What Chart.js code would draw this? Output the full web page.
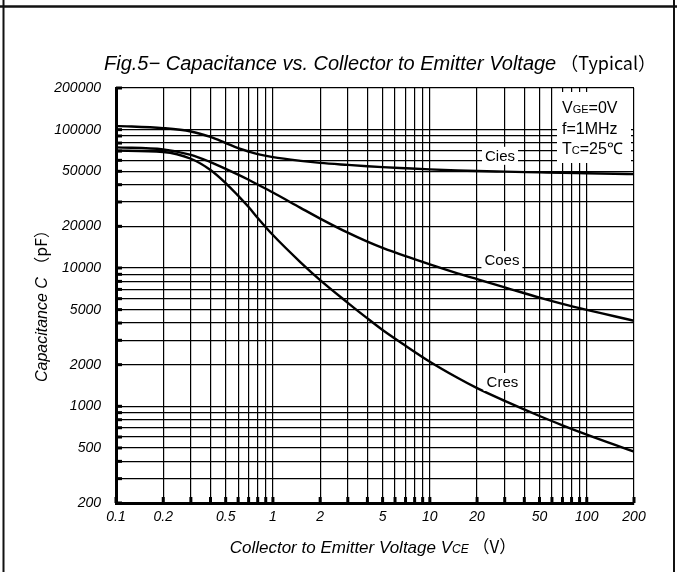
<!DOCTYPE html>
<html>
<head>
<meta charset="utf-8">
<script src="https://cdn.jsdelivr.net/npm/chart.js@4"></script>
<style>
  html, body { margin: 0; padding: 0; background: #fff; }
  #wrap { width: 677px; height: 572px; }
</style>
</head>
<body>
<div id="wrap"><canvas id="capChart" width="677" height="572"></canvas></div>
<script>
// --- data ---
const vce = [0.1, 0.2, 0.3, 0.4, 0.5, 0.6, 0.7, 0.8, 1, 1.5, 2, 3, 4, 5, 7, 10, 15, 20, 30, 50, 70, 100, 150, 200];
const cies = [106500, 102500, 97000, 88500, 80000, 73500, 69500, 66600, 63300, 59500, 57500, 55600, 54400, 53600, 52600, 51600, 50700, 50200, 49700, 49100, 48700, 48400, 48000, 47700];
const coes = [74500, 71900, 65800, 58300, 52100, 47300, 43400, 40100, 35100, 27200, 22750, 17990, 15490, 13970, 12170, 10620, 9150, 8300, 7250, 6100, 5500, 4980, 4480, 4150];
const cres = [70500, 69000, 61600, 51100, 41100, 33300, 27600, 23000, 17300, 10990, 8170, 5600, 4320, 3560, 2740, 2100, 1607, 1352, 1094, 851, 729, 624, 528, 471];

// grid lines (1..9 per decade) and the values that get a label
const xGrid = [0.1, 0.2, 0.3, 0.4, 0.5, 0.6, 0.7, 0.8, 0.9, 1, 2, 3, 4, 5, 6, 7, 8, 9, 10, 20, 30, 40, 50, 60, 70, 80, 90, 100, 200];
const xLabels = [0.1, 0.2, 0.5, 1, 2, 5, 10, 20, 50, 100, 200];
const yGrid = [200, 300, 400, 500, 600, 700, 800, 900, 1000, 2000, 3000, 4000, 5000, 6000, 7000, 8000, 9000, 10000,
  20000, 30000, 40000, 50000, 60000, 70000, 80000, 90000, 100000, 200000];
const yLabels = [200, 500, 1000, 2000, 5000, 10000, 20000, 50000, 100000, 200000];

// curve name labels, placed at data coordinates
const curveNames = ['Cies', 'Coes', 'Cres'];
const nameAt = [[28, 64700], [28.8, 11400], [29, 1500]];

const conditions = [['V', 'GE', '=0V'], ['f=1MHz', '', ''], ['T', 'C', '=25℃']];

const toPoints = ys => vce.map((x, i) => ({ x: x, y: ys[i] }));
const sans = '"Liberation Sans", Arial, sans-serif';
const cjk = '"Noto Sans CJK JP", sans-serif';

function curve(ys) {
  return {
    data: toPoints(ys),
    showLine: true,
    borderColor: '#000',
    borderWidth: 2.4,
    pointRadius: 0,
    cubicInterpolationMode: 'monotone'
  };
}

// draw a run of [text, font] pieces starting at x
function drawRun(ctx, parts, x, y) {
  parts.forEach(p => { ctx.font = p[1]; ctx.fillText(p[0], x, y); x += ctx.measureText(p[0]).width; });
  return x;
}
function runWidth(ctx, parts) {
  let w = 0;
  parts.forEach(p => { ctx.font = p[1]; w += ctx.measureText(p[0]).width; });
  return w;
}

// --- extra drawing: inner ticks, frame, titles, labels ---
const decorations = {
  id: 'decorations',
  afterDatasetsDraw(chart) {
    const ctx = chart.ctx;
    const xs = chart.scales.x, ys = chart.scales.y;
    const a = chart.chartArea;
    ctx.save();

    // thick inward ticks on left and bottom axis
    ctx.strokeStyle = '#000';
    ctx.lineWidth = 3;
    yGrid.forEach(v => {
      const py = ys.getPixelForValue(v);
      ctx.beginPath(); ctx.moveTo(a.left, py); ctx.lineTo(a.left + 6, py); ctx.stroke();
    });
    xGrid.forEach(v => {
      const px = xs.getPixelForValue(v);
      ctx.beginPath(); ctx.moveTo(px, a.bottom); ctx.lineTo(px, a.bottom - 6); ctx.stroke();
    });

    // curve names on white boxes
    ctx.font = '15px ' + sans;
    ctx.textAlign = 'center';
    ctx.textBaseline = 'middle';
    curveNames.forEach((name, i) => {
      const px = xs.getPixelForValue(nameAt[i][0]);
      const py = ys.getPixelForValue(nameAt[i][1]);
      const w = ctx.measureText(name).width + 6;
      ctx.fillStyle = '#fff';
      ctx.fillRect(px - w / 2, py - 9, w, 18);
      ctx.fillStyle = '#000';
      ctx.fillText(name, px, py + 1);
    });

    // conditions box
    ctx.fillStyle = '#fff';
    ctx.fillRect(557, 92, 74, 71);
    ctx.textAlign = 'left';
    ctx.textBaseline = 'alphabetic';
    ctx.fillStyle = '#000';
    conditions.forEach((parts, i) => {
      const run = [[parts[0], '16px ' + sans]];
      if (parts[1]) run.push([parts[1], '11px ' + sans]);
      if (parts[2]) run.push([parts[2], '16px ' + sans]);
      drawRun(ctx, run, 562, 113 + i * 20.5);
    });

    // title
    drawRun(ctx, [
      ['Fig.5\u2212 Capacitance vs. Collector to Emitter Voltage', 'italic 20px ' + sans],
      [' （Typical）', '18px ' + cjk]
    ], 104, 70);

    // x axis title
    const xa = [['Collector to Emitter Voltage V', 'italic 17px ' + sans], ['CE', 'italic 12px ' + sans], [' （V）', '17px ' + cjk]];
    drawRun(ctx, xa, 373 - runWidth(ctx, xa) / 2, 553);

    // y axis title
    ctx.translate(47, 302);
    ctx.rotate(-Math.PI / 2);
    const ya = [['Capacitance C ', 'italic 16px ' + sans], ['（pF）', '16px ' + cjk]];
    drawRun(ctx, ya, -runWidth(ctx, ya) / 2, 0);
    ctx.setTransform(1, 0, 0, 1, 0, 0);

    // outer frame
    ctx.strokeStyle = '#111';
    ctx.lineWidth = 2;
    ctx.beginPath();
    ctx.moveTo(3.5, 0); ctx.lineTo(3.5, 572);
    ctx.moveTo(674, 0); ctx.lineTo(674, 572);
    ctx.stroke();
    ctx.lineWidth = 2.5;
    ctx.beginPath(); ctx.moveTo(0, 6.5); ctx.lineTo(677, 6.5); ctx.stroke();
    ctx.restore();
  }
};

const tickFont = { family: sans, style: 'italic', size: 14 };

new Chart(document.getElementById('capChart'), {
  type: 'scatter',
  data: { datasets: [curve(cies), curve(coes), curve(cres)] },
  options: {
    responsive: false,
    animation: false,
    layout: { padding: { left: 0, top: 88, right: 43, bottom: 0 } },
    plugins: { legend: { display: false }, tooltip: { enabled: false } },
    scales: {
      x: {
        type: 'logarithmic',
        min: 0.1, max: 200,
        afterBuildTicks: s => { s.ticks = xGrid.map(v => ({ value: v })); },
        afterFit: s => { s.height = 69; },
        ticks: {
          autoSkip: false, maxRotation: 0, padding: 6,
          color: '#000', font: tickFont,
          callback: v => xLabels.includes(v) ? String(v) : ''
        },
        grid: { color: '#000', lineWidth: 1.2, drawTicks: false },
        border: { color: '#000', width: 3 }
      },
      y: {
        type: 'logarithmic',
        min: 200, max: 200000,
        afterBuildTicks: s => { s.ticks = yGrid.map(v => ({ value: v })); },
        afterFit: s => { s.width = 116; },
        ticks: {
          autoSkip: false, padding: 15,
          color: '#000', font: tickFont,
          callback: v => yLabels.includes(v) ? String(v) : ''
        },
        grid: { color: '#000', lineWidth: 1.2, drawTicks: false },
        border: { color: '#000', width: 3 }
      }
    }
  },
  plugins: [decorations]
});
</script>
</body>
</html>
